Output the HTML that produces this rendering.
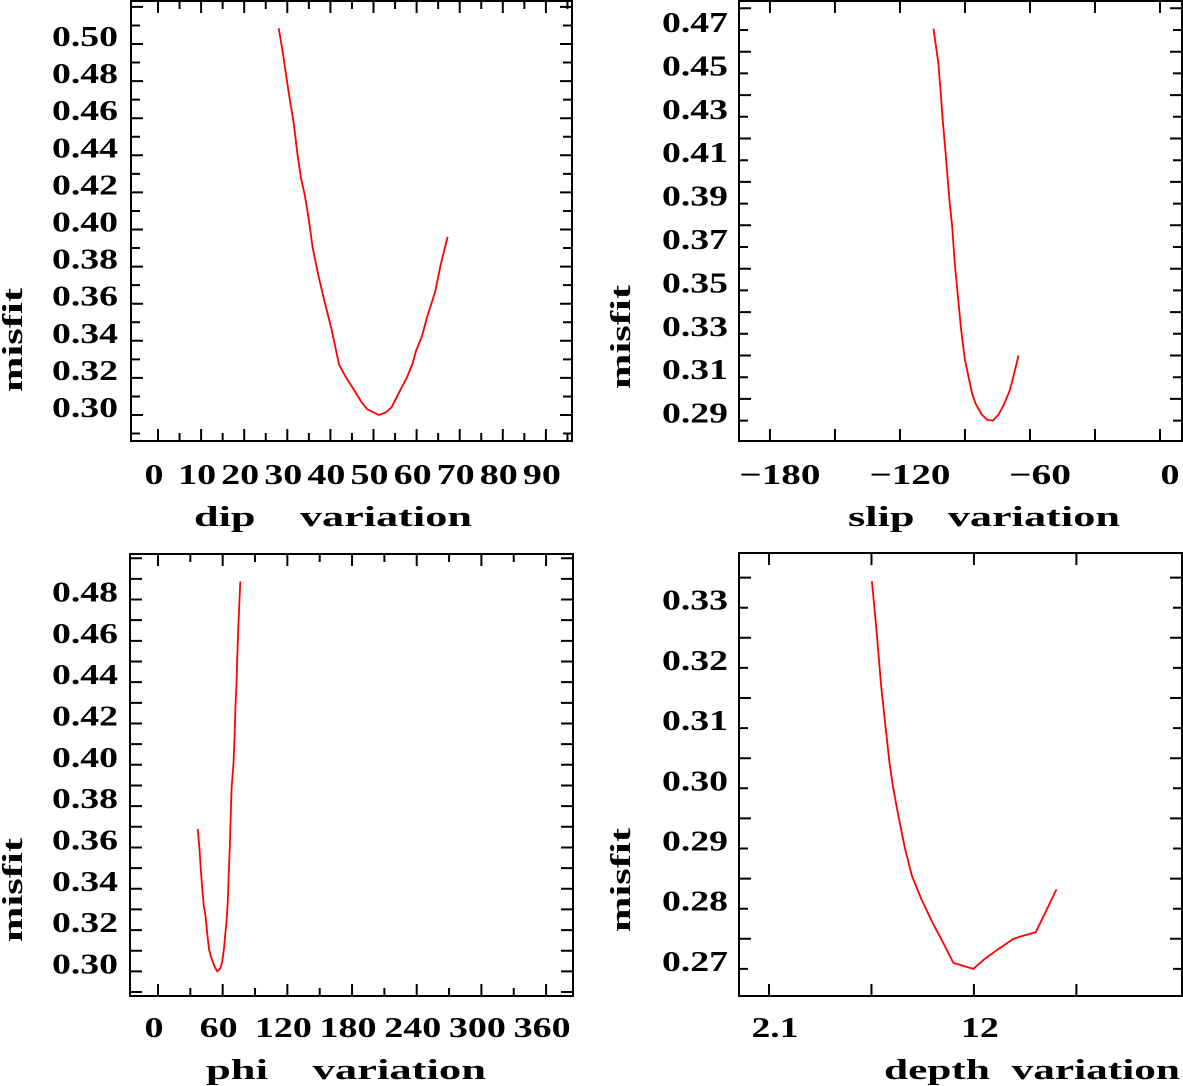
<!DOCTYPE html>
<html><head><meta charset="utf-8"><style>
html,body{margin:0;padding:0;background:#fff;}
svg{display:block;}
text{font-family:"Liberation Serif",serif;font-weight:bold;fill:#000;white-space:pre;}
</style></head><body>
<svg id="chart" width="1183" height="1086" viewBox="0 0 1183 1086" xmlns="http://www.w3.org/2000/svg"></svg>
<script>
// ---- data ----
const dipX = [28.0,28.9,30.2,31.5,32.4,33.2,34.1,35.0,35.9,37.2,38.5,40.3,42.0,43.7,45.5,47.2,48.5,51.2,52.9,54.2,56.0,57.7,59.0,59.9,61.2,62.5,64.3,65.6,67.2];
const dipY = [0.5085,0.496,0.4756,0.457,0.440,0.4274,0.418,0.405,0.390,0.3755,0.3625,0.3459,0.3273,0.320,0.3135,0.307,0.3032,0.300,0.3014,0.3042,0.3125,0.320,0.3273,0.3348,0.3422,0.3533,0.3663,0.381,0.396];
const slipX = [-104.5,-102.3,-101.4,-100.2,-98.8,-97.1,-95.9,-94.8,-93.6,-91.9,-90.1,-88.4,-86.7,-85.0,-82.3,-79.7,-77.1,-74.5,-71.9,-69.3,-67.6,-65.3];
const slipY = [0.4706,0.4549,0.4437,0.4276,0.4116,0.3907,0.3795,0.3634,0.3506,0.3329,0.3184,0.3104,0.3024,0.2976,0.2928,0.2903,0.29,0.2928,0.2976,0.3040,0.3104,0.3200];
const phiX = [36.9,38.6,39.7,41.4,42.5,44.2,45.6,47.4,49.1,50.8,52.6,55.0,57.8,59.6,61.3,62.4,63.7,64.8,65.5,66.6,67.3,68.3,70.0,71.1,71.8,72.8,73.6,74.6,76.3];
const phiY = [0.3689,0.3585,0.3492,0.3383,0.3316,0.3266,0.3182,0.3106,0.3072,0.3047,0.3022,0.300,0.3014,0.3047,0.3114,0.3182,0.3249,0.3349,0.3451,0.3602,0.3719,0.3887,0.4005,0.4139,0.4274,0.4392,0.4526,0.4677,0.4887];
const depthX = [7.07,7.28,7.52,7.74,7.92,8.07,8.28,8.65,9.01,9.46,10.01,10.46,11.01,11.97,12.46,13.1,13.91,14.27,14.99,15.99];
const depthY = [0.3344,0.3268,0.3169,0.3100,0.3042,0.3007,0.2967,0.2903,0.2854,0.2816,0.2776,0.2747,0.2710,0.27,0.2715,0.2731,0.2750,0.2754,0.2761,0.2832];
const dipXTicks = ["0","10","20","30","40","50","60","70","80","90"];
const dipYTicks = ["0.30","0.32","0.34","0.36","0.38","0.40","0.42","0.44","0.46","0.48","0.50"];
const slipXTicks = ["\u2212180","\u2212120","\u221260","0"];
const slipYTicks = ["0.29","0.31","0.33","0.35","0.37","0.39","0.41","0.43","0.45","0.47"];
const phiXTicks = ["0","60","120","180","240","300","360"];
const phiYTicks = ["0.30","0.32","0.34","0.36","0.38","0.40","0.42","0.44","0.46","0.48"];
const depthXTicks = ["2.1","12"];
const depthYTicks = ["0.27","0.28","0.29","0.30","0.31","0.32","0.33"];

const NS = "http://www.w3.org/2000/svg";
const svg = document.getElementById("chart");
function mk(tag, attrs, parent){
  const e = document.createElementNS(NS, tag);
  for (const k in attrs) e.setAttribute(k, attrs[k]);
  (parent||svg).appendChild(e);
  return e;
}
function labelWidth(t){
  let w = 0;
  for (const c of t) w += (c === "." ? 9 : (c === "\u2212" ? 24 : 19));
  return w;
}

function panel(p){
  const g = mk("g", {});
  
  
  const sx = v => p.x0 + (v - p.xv0) * p.xs;
  const sy = v => p.y0 - (v - p.yv0) * p.ys;
  const fr = mk("rect", {x:p.L, y:p.T, width:p.R-p.L, height:p.B-p.T, fill:"none", stroke:"#000", "stroke-width":2}, g);
  
  
  let d = "";
  for (let k = 0; ; k++) {
    const v = p.xtStart + k * p.xtStep;
    if (v > p.xtEnd + 1e-9) break;
    const x = sx(v);
    if (x < p.L || x > p.R) continue;
    const major = k % p.xMajorEvery === 0;
    const len = major ? 12 : 8;
    d += `M${x},${p.B}v${-len}M${x},${p.T}v${len}`;
  }
  for (let k = 0; ; k++) {
    const v = p.ytStart + k * p.ytStep;
    const y = sy(v);
    if (y < p.T) break;
    if (y > p.B) continue;
    const major = k % p.yMajorEvery === 0;
    const len = major ? 12 : 9;
    d += `M${p.L},${y}h${len}M${p.R},${y}h${-len}`;
  }
  const tk = mk("path", {d:d, stroke:"#000", "stroke-width":2, fill:"none"}, g);
  
  
  p.xLabels.forEach((t, i) => {
    const v = p.xLabelVals[i];
    const tx = mk("text", {x:sx(v) + p.xlOff, y:p.xlY, "font-size":28, "text-anchor":"middle", textLength:labelWidth(t), lengthAdjust:"spacingAndGlyphs"}, g);
    tx.textContent = t;
    
    
  });
  p.yLabels.forEach((t) => {
    const v = parseFloat(t);
    const tx = mk("text", {x:p.ylX, y:sy(v) + 2, "font-size":28, "text-anchor":"end", textLength:66, lengthAdjust:"spacingAndGlyphs"}, g);
    tx.textContent = t;
    
    
  });
  const xt = mk("text", {x:p.xtX, y:p.xtY, "font-size":28, textLength:p.xtLen, lengthAdjust:"spacingAndGlyphs"}, g);
  xt.textContent = p.xTitle;
  
  
  const yt = mk("text", {x:0, y:0, "font-size":28, "text-anchor":"middle", textLength:104, lengthAdjust:"spacingAndGlyphs", transform:`translate(${p.ytX},${p.ytY}) rotate(-90)`}, g);
  yt.textContent = "misfit";
  
  
  const pts = p.xs_data.map((v, i) => `${sx(v).toFixed(1)},${sy(p.ys_data[i]).toFixed(1)}`).join(" ");
  const ln = mk("polyline", {points:pts, fill:"none", stroke:"#ff0000", "stroke-width":1.8, "stroke-linejoin":"round"}, g);
  
  
}

panel({name:"dip", L:131, R:572, T:1, B:441, x0:158, xv0:0, xs:4.31, y0:415, yv0:0.30, ys:1855,
  xtStart:0, xtEnd:100, xtStep:5, xMajorEvery:2, ytStart:0.28, ytStep:0.01, yMajorEvery:2,
  xLabels:dipXTicks, xLabelVals:[0,10,20,30,40,50,60,70,80,90], xlOff:-4, xlY:484,
  yLabels:dipYTicks, ylX:118, xTitle:"dip    variation", xtX:194, xtY:526, xtLen:278,
  ytX:22, ytY:340, xs_data:dipX, ys_data:dipY});

panel({name:"slip", L:739, R:1182, T:1, B:441, x0:1160, xv0:0, xs:2.167, y0:420.6, yv0:0.29, ys:2170,
  xtStart:-180, xtEnd:0, xtStep:30, xMajorEvery:1, ytStart:0.28, ytStep:0.01, yMajorEvery:2,
  xLabels:slipXTicks, xLabelVals:[-180,-120,-60,0], xlOff:10, xlY:484,
  yLabels:slipYTicks, ylX:728, xTitle:"slip   variation", xtX:848, xtY:526, xtLen:272,
  ytX:630, ytY:337, xs_data:slipX, ys_data:slipY});

panel({name:"phi", L:130, R:573, T:554, B:996, x0:158, xv0:0, xs:1.078, y0:971.4, yv0:0.30, ys:2066,
  xtStart:0, xtEnd:390, xtStep:30, xMajorEvery:2, ytStart:0.29, ytStep:0.01, yMajorEvery:1,
  xLabels:phiXTicks, xLabelVals:[0,60,120,180,240,300,360], xlOff:-4, xlY:1037,
  yLabels:phiYTicks, ylX:118, xTitle:"phi    variation", xtX:206, xtY:1079, xtLen:280,
  ytX:22, ytY:890, xs_data:phiX, ys_data:phiY});

panel({name:"depth", L:739, R:1182, T:553, B:996, x0:769, xv0:2.1, xs:20.7, y0:968.9, yv0:0.27, ys:6020,
  xtStart:2.1, xtEnd:17, xtStep:4.95, xMajorEvery:1, ytStart:0.265, ytStep:0.005, yMajorEvery:2,
  xLabels:depthXTicks, xLabelVals:[2.1,12], xlOff:6, xlY:1037,
  yLabels:depthYTicks, ylX:728, xTitle:"depth  variation", xtX:884, xtY:1079, xtLen:296,
  ytX:630, ytY:880, xs_data:depthX, ys_data:depthY});
</script>
</body></html>
